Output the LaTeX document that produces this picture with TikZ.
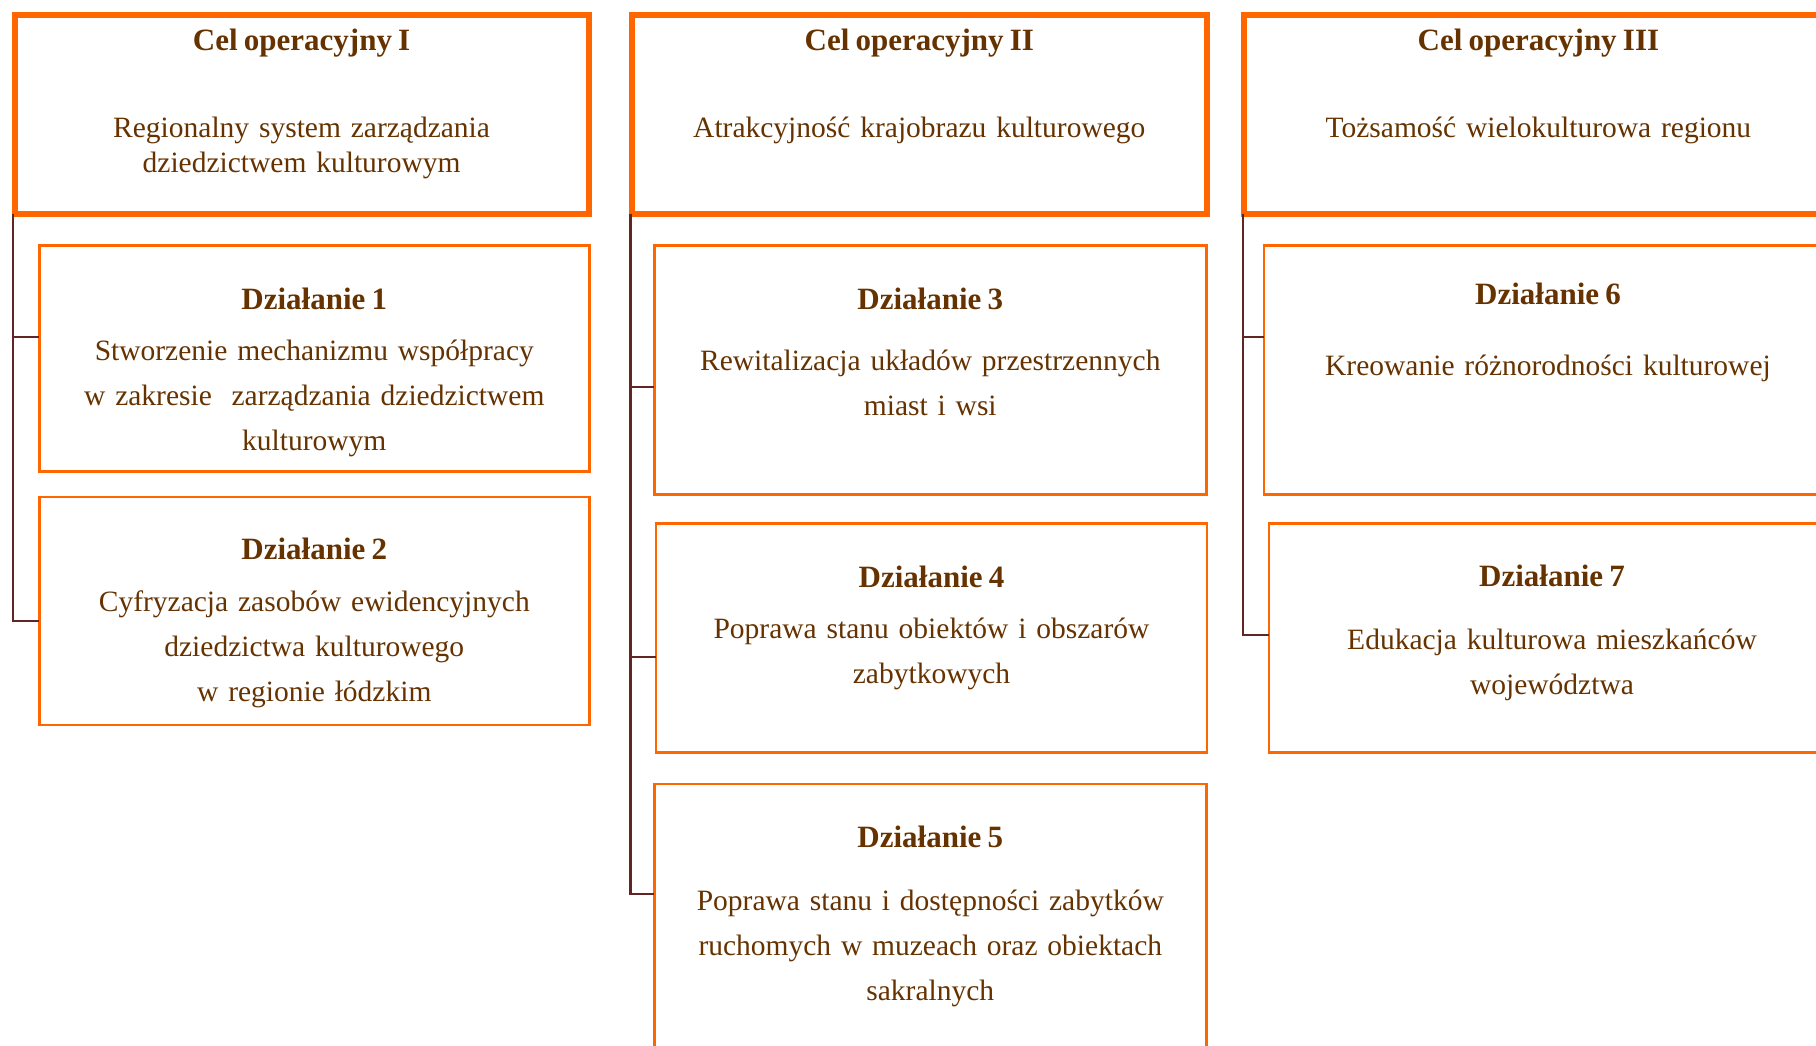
\documentclass[tikz,border=0pt]{standalone}
\usepackage{fontspec}
\setmainfont{Liberation Serif}[WordSpace=0.8]
\usetikzlibrary{positioning}
\definecolor{pomarancz}{HTML}{FF6600}
\definecolor{braz}{HTML}{663300}
\definecolor{bordo}{HTML}{632523}
\tikzset{
  celbox/.style ={rectangle, draw=pomarancz, line width=6pt, anchor=north west,
                  inner sep=0pt, outer sep=0pt, minimum height=199pt},
  dzbox/.style  ={rectangle, draw=pomarancz, line width=2.5pt, anchor=north west,
                  inner sep=0pt, outer sep=0pt},
  tytul/.style  ={anchor=base, text=braz, font=\fontsize{31}{35}\selectfont\bfseries},
  opis/.style   ={anchor=base, text=braz, align=center, text width=560pt,
                  font=\fontsize{29.5}{45}\selectfont},
  opiscel/.style={opis, font=\fontsize{29.5}{35}\selectfont},
  link/.style   ={draw=bordo, line width=2.5pt},
}
\begin{document}
\begin{tikzpicture}[x=1pt, y=-1pt]

  \fill[white] (0,0) rectangle (1816,1045);
  \clip (0,0) rectangle (1816,1045);

  % cele operacyjne
  \node[celbox, minimum width=574pt] (cel1) at (14.6,14.6)   {};
  \node[celbox, minimum width=575pt] (cel2) at (631.8,14.6)  {};
  \node[celbox, minimum width=588pt] (cel3) at (1244.4,14.6) {};

  \node[tytul]   (cel1t) at (cel1.north |- 0,50)  {Cel operacyjny I};
  \node[opiscel] (cel1o) at (cel1.north |- 0,137) {Regionalny system zarządzania\\dziedzictwem kulturowym};
  \node[tytul]   (cel2t) at (cel2.north |- 0,50)  {Cel operacyjny II};
  \node[opiscel] (cel2o) at (cel2.north |- 0,137) {Atrakcyjność krajobrazu kulturowego};
  \node[tytul]   (cel3t) at (cel3.north |- 0,50)  {Cel operacyjny III};
  \node[opiscel] (cel3o) at (cel3.north |- 0,137) {Tożsamość wielokulturowa regionu};

  % dzialania
  \node[dzbox, minimum width=550pt, minimum height=226pt] (dz1) at (39.3,245.5) {};
  \node[dzbox, minimum width=550pt, minimum height=228pt] (dz2) at (39.3,497)   {};
  \node[dzbox, minimum width=552pt, minimum height=249pt] (dz3) at (654.3,245.5) {};
  \node[dzbox, minimum width=551pt, minimum height=229pt] (dz4) at (656,523.5)  {};
  \node[dzbox, minimum width=552pt, minimum height=290pt] (dz5) at (654.3,784)  {};
  \node[dzbox, minimum width=568pt, minimum height=249pt] (dz6) at (1264,245.5) {};
  \node[dzbox, minimum width=566pt, minimum height=229pt] (dz7) at (1269,523.5) {};

  \node[tytul] (dz1t) at (dz1.north |- 0,309) {Działanie 1};
  \node[opis]  (dz1o) at (dz1.north |- 0,360) {Stworzenie mechanizmu współpracy\\w zakresie~ zarządzania dziedzictwem\\kulturowym};
  \node[tytul] (dz2t) at (dz2.north |- 0,559) {Działanie 2};
  \node[opis]  (dz2o) at (dz2.north |- 0,611) {Cyfryzacja zasobów ewidencyjnych\\dziedzictwa kulturowego\\w regionie łódzkim};
  \node[tytul] (dz3t) at (dz3.north |- 0,309) {Działanie 3};
  \node[opis]  (dz3o) at (dz3.north |- 0,370) {Rewitalizacja układów przestrzennych\\miast i wsi};
  \node[tytul] (dz4t) at (dz4.north |- 0,587) {Działanie 4};
  \node[opis]  (dz4o) at (dz4.north |- 0,638) {Poprawa stanu obiektów i obszarów\\zabytkowych};
  \node[tytul] (dz5t) at (dz5.north |- 0,847) {Działanie 5};
  \node[opis]  (dz5o) at (dz5.north |- 0,910) {Poprawa stanu i dostępności zabytków\\ruchomych w muzeach oraz obiektach\\sakralnych};
  \node[tytul] (dz6t) at (dz6.north |- 0,304) {Działanie 6};
  \node[opis]  (dz6o) at (dz6.north |- 0,375) {Kreowanie różnorodności kulturowej};
  \node[tytul] (dz7t) at (dz7.north |- 0,586) {Działanie 7};
  \node[opis]  (dz7o) at (dz7.north |- 0,649) {Edukacja kulturowa mieszkańców\\województwa};

  % polaczenia
  \draw[link] ([xshift=-1.5pt]cel1.south west) |- ([yshift=21.5pt]dz1.west);
  \draw[link] ([xshift=-1.5pt]cel1.south west) |- ([yshift=-10pt]dz2.west);
  \draw[link] ([xshift=-1.5pt]cel2.south west) |- ([yshift=-17pt]dz3.west);
  \draw[link] ([xshift=-1.5pt]cel2.south west) |- ([yshift=-19pt]dz4.west);
  \draw[link] ([xshift=-1.5pt]cel2.south west) |- ([yshift=35pt]dz5.west);
  \draw[link] ([xshift=-1.5pt]cel3.south west) |- ([yshift=33pt]dz6.west);
  \draw[link] ([xshift=-1.5pt]cel3.south west) |- ([yshift=3pt]dz7.west);

\end{tikzpicture}
\end{document}
